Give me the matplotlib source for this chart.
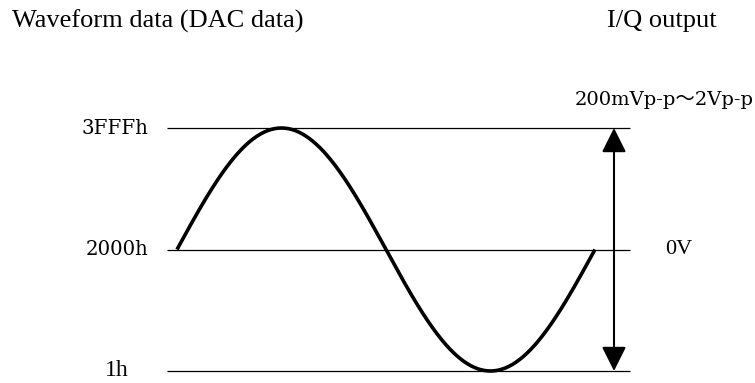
import numpy as np
import matplotlib.pyplot as plt
from matplotlib.patches import FancyArrowPatch

# ── DATA ──────────────────────────────────────────────────────────────────────
levels      = [0x3FFF, 0x2000, 0x1]          # DAC codes of the guide lines
level_names = ["3FFFh", "2000h", "1h"]
phase_deg   = np.linspace(0, 360, 361)       # one full period
dac_mid     = 0x2000
dac_amp     = 0x1FFF
out_range   = "200mVp-p\uff5e2Vp-p"
out_zero    = "0V"

wave = dac_mid + dac_amp * np.sin(np.deg2rad(phase_deg))

# ── FIGURE ────────────────────────────────────────────────────────────────────
W, H = 755, 383
fig = plt.figure(figsize=(W / 100, H / 100), dpi=100)
ax = fig.add_axes([0, 0, 1, 1])
ax.axis("off")

# pixel mapping: 0 deg at x=177, 360 deg at x=595; 3FFFh at y=128, 1h at y=371
px_deg = (595 - 177) / 360
px_code = (371 - 128) / (0x3FFF - 0x1)
ax.set_xlim(-177 / px_deg, (W - 177) / px_deg)
ax.set_ylim(0x1 - (H - 371) / px_code, 0x3FFF + 128 / px_code)

x0 = (167 - 177) / px_deg
x1 = (630 - 177) / px_deg
for lv in levels:
    ax.plot([x0, x1], [lv, lv], color="black", lw=0.9, solid_capstyle="butt")

ax.plot(phase_deg, wave, color="black", lw=2.6, solid_capstyle="butt")

x_arrow = (614 - 177) / px_deg
arr = FancyArrowPatch((x_arrow, levels[2]), (x_arrow, levels[0]),
                      arrowstyle="<|-|>,head_length=15,head_width=7.5",
                      mutation_scale=1, color="black", lw=1.5,
                      shrinkA=0, shrinkB=0)
ax.add_patch(arr)

# ── LABELS ────────────────────────────────────────────────────────────────────
lab_font = dict(family="DejaVu Serif", fontsize=14.2, color="black")
ax.text((148 - 177) / px_deg, levels[0], level_names[0], ha="right", va="center", **lab_font)
ax.text((148 - 177) / px_deg, levels[1], level_names[1], ha="right", va="center", **lab_font)
ax.text((105 - 177) / px_deg, levels[2], level_names[2], ha="left", va="center",
        family="Liberation Serif", fontsize=17)

ax.text((665 - 177) / px_deg, levels[1], out_zero, ha="left", va="center",
        family="Liberation Serif", fontsize=16)
ax.text((754 - 177) / px_deg, levels[0] + 28 / px_code, out_range, ha="right", va="center",
        family=["DejaVu Serif", "Noto Sans CJK JP"], fontsize=14)

fig.text(12 / W, 1 - 21 / H, "Waveform data (DAC data)", ha="left", va="center",
         family="Liberation Serif", fontsize=19)
fig.text(607 / W, 1 - 21 / H, "I/Q output", ha="left", va="center",
         family="Liberation Serif", fontsize=19)

fig.savefig("out.png", dpi=100, facecolor="white")
